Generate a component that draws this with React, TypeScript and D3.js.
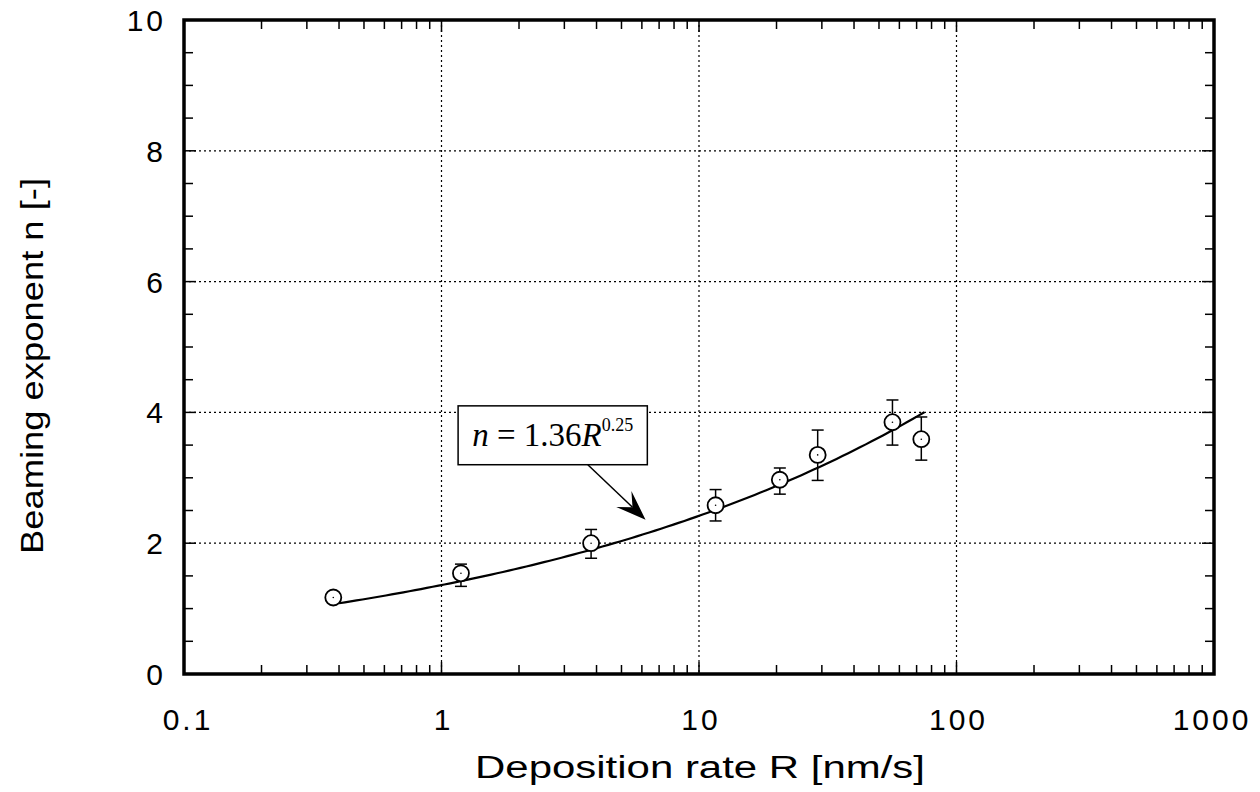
import React from "react";
import * as d3 from "d3";

const rates = [0.38, 1.19, 3.81, 11.6, 20.6, 28.9, 56.4, 73];
const exponents = [1.17, 1.54, 2.0, 2.58, 2.97, 3.35, 3.85, 3.59];
const errLow = [null, 1.34, 1.77, 2.34, 2.75, 2.96, 3.5, 3.27];
const errHigh = [null, 1.68, 2.21, 2.82, 3.15, 3.73, 4.19, 3.93];
const xTickValues = [0.1, 1, 10, 100, 1000];
const xTickLabels = ["0.1", "1", "10", "100", "1000"];
const yTickValues = [0, 2, 4, 6, 8, 10];
const fitCoef = 1.36;
const fitPow = 0.25;
const fitRange = [0.4, 75];

const W = 1260;
const H = 792;
const L = 184, R = 1214, T = 20, B = 674;

export default function App() {
  const x = d3.scaleLog().domain([0.1, 1000]).range([L, R]);
  const y = d3.scaleLinear().domain([0, 10]).range([B, T]);

  const minorX: number[] = [];
  for (let d = 0.1; d < 1000; d *= 10) {
    for (let k = 2; k <= 9; k++) minorX.push(d * k);
  }
  const minorY = d3.range(0, 10.01, 0.5).filter((v) => v % 2 !== 0);

  const fitPts = d3.range(0, 101).map((i) => {
    const r = fitRange[0] * Math.pow(fitRange[1] / fitRange[0], i / 100);
    return [r, fitCoef * Math.pow(r, fitPow)] as [number, number];
  });
  const line = d3
    .line<[number, number]>()
    .x((d) => x(d[0]))
    .y((d) => y(d[1]))
    .curve(d3.curveMonotoneX);

  // annotation
  const boxX0 = x(1.16), boxX1 = x(6.3);
  const boxY0 = y(4.1), boxY1 = y(3.2);
  const arrowStart = [x(3.7), boxY1];
  const arrowTip = [x(6.2), y(2.36)];
  const ang = Math.atan2(arrowTip[1] - arrowStart[1], arrowTip[0] - arrowStart[0]);
  const ah = 30, aw = 11;
  const bx = arrowTip[0] - ah * Math.cos(ang);
  const by = arrowTip[1] - ah * Math.sin(ang);
  const nx = -Math.sin(ang), ny = Math.cos(ang);
  const notchX = arrowTip[0] - ah * 0.6 * Math.cos(ang);
  const notchY = arrowTip[1] - ah * 0.6 * Math.sin(ang);
  const headPath = `M${arrowTip[0]},${arrowTip[1]} L${bx + nx * aw},${by + ny * aw} L${notchX},${notchY} L${bx - nx * aw},${by - ny * aw} Z`;

  const sans = "'Liberation Sans', Arial, Helvetica, sans-serif";
  const serif = "'Liberation Serif', 'Times New Roman', serif";

  return (
    <svg width={W} height={H} style={{ position: "absolute", left: 0, top: 0, background: "#fff" }}>
      <rect x={0} y={0} width={W} height={H} fill="#fff" />
      {/* grid */}
      <g stroke="#000" strokeWidth={1.2} strokeDasharray="2,3">
        {xTickValues.slice(1, -1).map((v) => (
          <line key={"gx" + v} x1={x(v)} x2={x(v)} y1={T} y2={B} />
        ))}
        {yTickValues.slice(1, -1).map((v) => (
          <line key={"gy" + v} x1={L} x2={R} y1={y(v)} y2={y(v)} />
        ))}
      </g>
      {/* ticks */}
      <g stroke="#000" strokeWidth={1.5}>
        {minorX.map((v) => (
          <g key={"mx" + v}>
            <line x1={x(v)} x2={x(v)} y1={B} y2={B - 9} />
            <line x1={x(v)} x2={x(v)} y1={T} y2={T + 9} />
          </g>
        ))}
        {minorY.map((v) => (
          <g key={"my" + v}>
            <line x1={L} x2={L + 9} y1={y(v)} y2={y(v)} />
            <line x1={R} x2={R - 9} y1={y(v)} y2={y(v)} />
          </g>
        ))}
        {yTickValues.map((v) => (
          <g key={"My" + v}>
            <line x1={L} x2={L + 12} y1={y(v)} y2={y(v)} />
            <line x1={R} x2={R - 12} y1={y(v)} y2={y(v)} />
          </g>
        ))}
        {xTickValues.map((v) => (
          <g key={"Mx" + v}>
            <line x1={x(v)} x2={x(v)} y1={B} y2={B - 12} />
            <line x1={x(v)} x2={x(v)} y1={T} y2={T + 12} />
          </g>
        ))}
      </g>
      {/* frame */}
      <rect x={L} y={T} width={R - L} height={B - T} fill="none" stroke="#000" strokeWidth={3.5} />

      {/* fit curve */}
      <path d={line(fitPts) || ""} fill="none" stroke="#000" strokeWidth={2.2} />

      {/* error bars */}
      <g stroke="#000" strokeWidth={1.5}>
        {rates.map((r, i) =>
          errLow[i] == null ? null : (
            <g key={"e" + i}>
              <line x1={x(r)} x2={x(r)} y1={y(errLow[i] as number)} y2={y(errHigh[i] as number)} />
              <line x1={x(r) - 6} x2={x(r) + 6} y1={y(errLow[i] as number)} y2={y(errLow[i] as number)} />
              <line x1={x(r) - 6} x2={x(r) + 6} y1={y(errHigh[i] as number)} y2={y(errHigh[i] as number)} />
            </g>
          )
        )}
      </g>
      {/* points */}
      <g>
        {rates.map((r, i) => (
          <g key={"p" + i}>
            <circle cx={x(r)} cy={y(exponents[i])} r={8} fill="#fff" stroke="#000" strokeWidth={1.8} />
            <circle cx={x(r)} cy={y(exponents[i])} r={0.8} fill="#000" />
          </g>
        ))}
      </g>

      {/* annotation */}
      <rect x={boxX0} y={boxY0} width={boxX1 - boxX0} height={boxY1 - boxY0} fill="#fff" stroke="#000" strokeWidth={1.5} />
      <text x={(boxX0 + boxX1) / 2} y={(boxY0 + boxY1) / 2 + 11} textAnchor="middle" fontFamily={serif} fontSize={33}>
        <tspan fontStyle="italic">n</tspan>
        <tspan> = 1.36</tspan>
        <tspan fontStyle="italic">R</tspan>
        <tspan fontSize={18} dy={-15}>0.25</tspan>
      </text>
      <line x1={arrowStart[0]} y1={arrowStart[1]} x2={notchX} y2={notchY} stroke="#000" strokeWidth={1.5} />
      <path d={headPath} fill="#000" />

      {/* tick labels */}
      <g fontFamily={sans} fontSize={30} fill="#000" letterSpacing={3}>
        {xTickValues.map((v, i) => (
          <text key={"xl" + v} x={x(v) + (i === 0 ? 4 : i === 4 ? -2 : 2)} y={730} textAnchor="middle">
            {xTickLabels[i]}
          </text>
        ))}
        {yTickValues.map((v) => (
          <text key={"yl" + v} x={166} y={y(v) + 11} textAnchor="end">
            {v}
          </text>
        ))}
      </g>
      {/* axis titles */}
      <text x={700} y={778} textAnchor="middle" fontFamily={sans} fontSize={31} textLength={450} lengthAdjust="spacingAndGlyphs">
        Deposition rate R [nm/s]
      </text>
      <text transform={`translate(43,366) rotate(-90)`} textAnchor="middle" fontFamily={sans} fontSize={31} textLength={376} lengthAdjust="spacingAndGlyphs">
        Beaming exponent n [-]
      </text>
    </svg>
  );
}
